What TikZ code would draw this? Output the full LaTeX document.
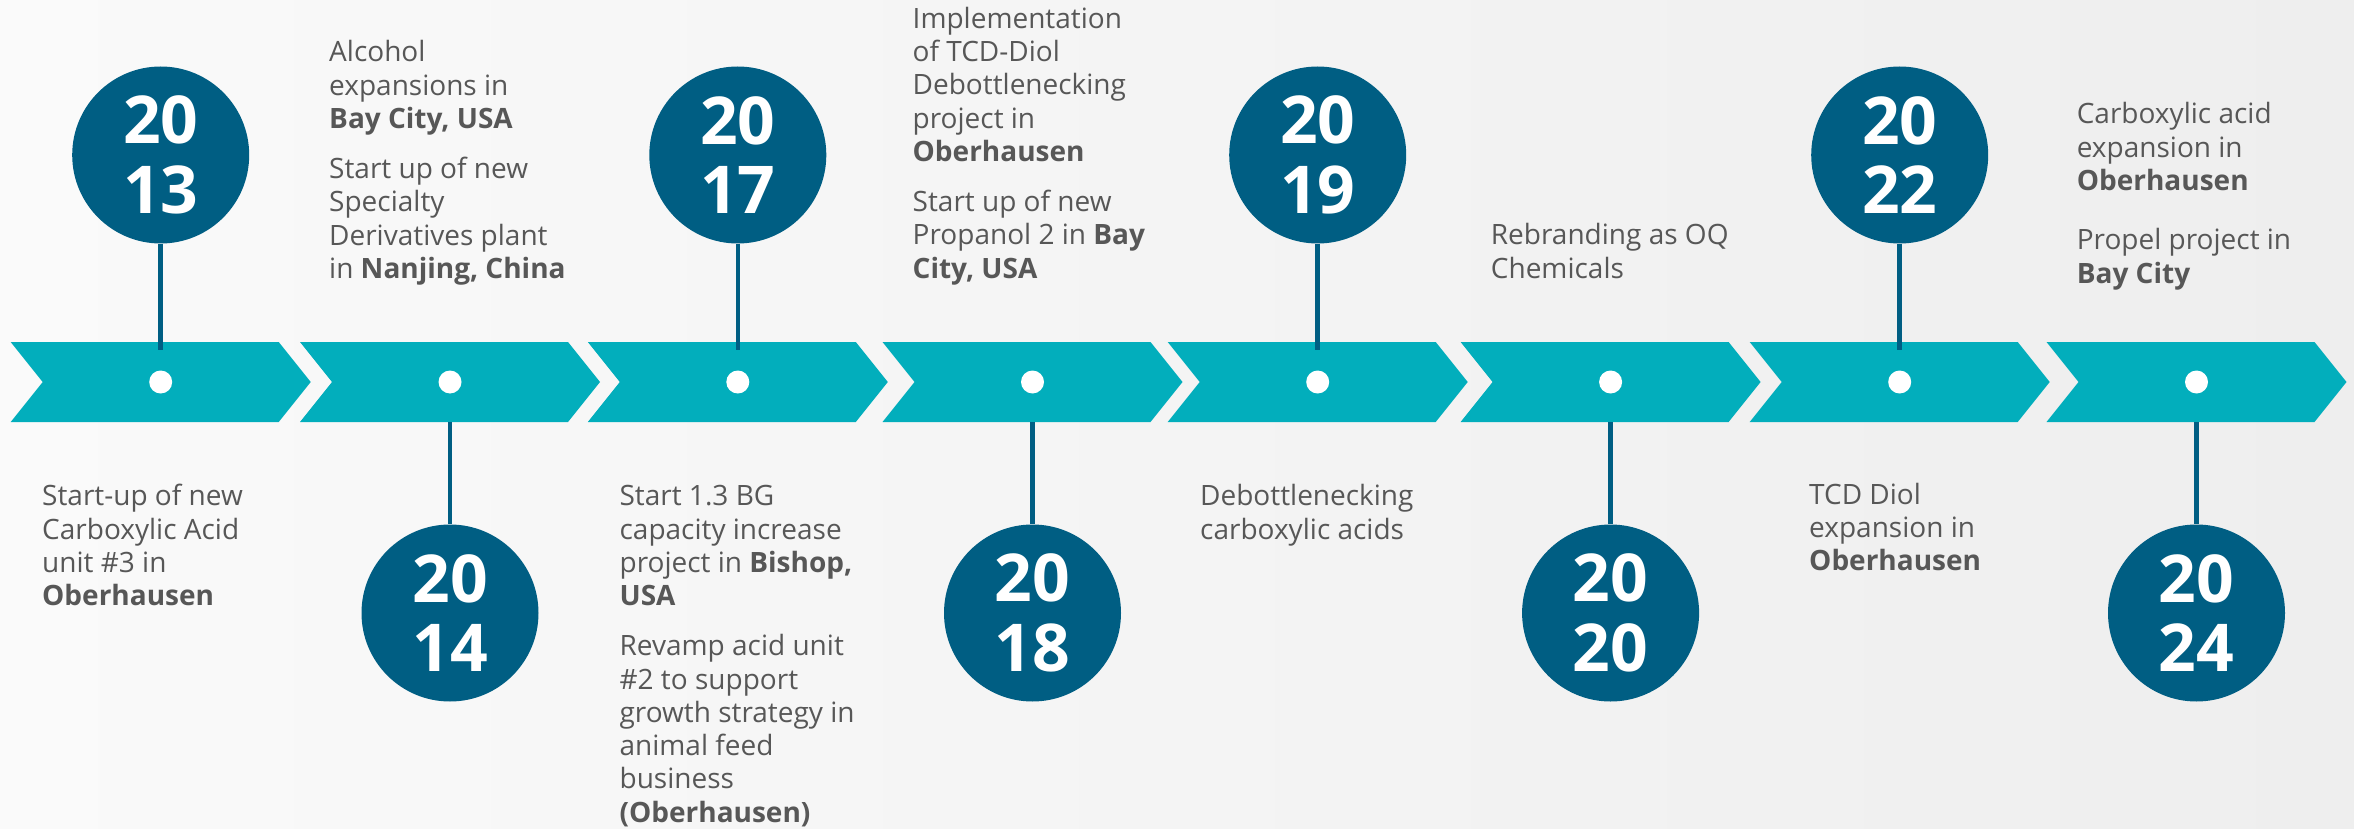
\documentclass[tikz,border=0pt]{standalone}
\usepackage{fontspec}
\setmainfont{Open Sans}
\definecolor{bandcol}{HTML}{02AEBC}
\definecolor{yearcol}{HTML}{005E83}
\definecolor{txtcol}{HTML}{575757}
\definecolor{bgA}{HTML}{FAFAFA}
\definecolor{bgB}{HTML}{EEEEEE}
\newcommand\yr[2]{\vbox{\baselineskip=69.5pt\halign{\hfil##\hfil\cr#1\cr#2\cr}}}
\newcommand\dl[1]{\hbox{#1}}
\newcommand\pgap{\vskip16.7pt}
\newcommand\blk[1]{\vtop{\baselineskip=33.3pt #1}}
\tikzset{
  bandshape/.style={fill=bandcol},
  yearc/.style={circle, fill=yearcol, minimum size=177pt, inner sep=0pt, text=white,
    font=\fontsize{66}{69.5}\selectfont\bfseries},
  dotc/.style={circle, fill=white, minimum size=23pt, inner sep=0pt},
  stemline/.style={draw=yearcol, line width=4.5pt},
  desc/.style={anchor=base west, inner sep=0pt, text=txtcol,
    font=\fontsize{28}{33.3}\selectfont},
}
\begin{document}
\begin{tikzpicture}[x=1pt,y=-1pt]
\path[left color=bgA, right color=bgB] (0,0) rectangle (2354,829);
\useasboundingbox (0,0) rectangle (2354,829);
% arrows
\foreach \L in {10.7,300,587.8,882.5,1167.7,1460.6,1749.7,2046.5}{
  \fill[bandshape] (\L,342) -- (\L+268,342) -- (\L+300,382) -- (\L+268,422)
    -- (\L,422) -- (\L+32,382) -- cycle;
}
% dots
\node[dotc] (d1) at (160.7,382) {};
\node[dotc] (d2) at (450,382) {};
\node[dotc] (d3) at (737.8,382) {};
\node[dotc] (d4) at (1032.5,382) {};
\node[dotc] (d5) at (1317.7,382) {};
\node[dotc] (d6) at (1610.6,382) {};
\node[dotc] (d7) at (1899.7,382) {};
\node[dotc] (d8) at (2196.5,382) {};
% year circles
\node[yearc] (c1) at (160.7,155) {\yr{20}{13}};
\node[yearc] (c2) at (450,613) {\yr{20}{14}};
\node[yearc] (c3) at (737.8,155) {\yr{20}{17}};
\node[yearc] (c4) at (1032.5,613) {\yr{20}{18}};
\node[yearc] (c5) at (1317.7,155) {\yr{20}{19}};
\node[yearc] (c6) at (1610.6,613) {\yr{20}{20}};
\node[yearc] (c7) at (1899.7,155) {\yr{20}{22}};
\node[yearc] (c8) at (2196.5,613) {\yr{20}{24}};
% stem ends
\coordinate (s1) at (160.7,350);
\coordinate (s2) at (450,422);
\coordinate (s3) at (737.8,350);
\coordinate (s4) at (1032.5,422);
\coordinate (s5) at (1317.7,350);
\coordinate (s6) at (1610.6,422);
\coordinate (s7) at (1899.7,350);
\coordinate (s8) at (2196.5,422);
\draw[stemline] (c1.south) -- (s1);
\draw[stemline] (s2) -- (c2.north);
\draw[stemline] (c3.south) -- (s3);
\draw[stemline] (s4) -- (c4.north);
\draw[stemline] (c5.south) -- (s5);
\draw[stemline] (s6) -- (c6.north);
\draw[stemline] (c7.south) -- (s7);
\draw[stemline] (s8) -- (c8.north);
% texts above
\node[desc] (t14) at (329,62) {\blk{\dl{Alcohol}\dl{expansions in}\dl{\bfseries Bay City, USA}\pgap
  \dl{Start up of new}\dl{Specialty}\dl{Derivatives plant}\dl{in \textbf{Nanjing, China}}}};
\node[desc] (t18) at (912.5,28.3) {\blk{\dl{Implementation}\dl{of TCD-Diol}\dl{Debottlenecking}\dl{project in}\dl{\bfseries Oberhausen}\pgap
  \dl{Start up of new}\dl{Propanol 2 in \textbf{Bay}}\dl{\bfseries City, USA}}};
\node[desc] (t20) at (1490.7,245) {\blk{\dl{Rebranding as OQ}\dl{Chemicals}}};
\node[desc] (t24) at (2076.6,124) {\blk{\dl{Carboxylic acid}\dl{expansion in}\dl{\bfseries Oberhausen}\vskip26pt
  \dl{Propel project in}\dl{\bfseries Bay City}}};
% texts below
\node[desc] (b13) at (42,505.8) {\blk{\dl{Start-up of new}\dl{Carboxylic Acid}\dl{unit \#3 in}\dl{\bfseries Oberhausen}}};
\node[desc] (b17) at (619.4,505.8) {\blk{\dl{Start 1.3 BG}\dl{capacity increase}\dl{project in \textbf{Bishop,}}\dl{\bfseries USA}\pgap
  \dl{Revamp acid unit}\dl{\#2 to support}\dl{growth strategy in}\dl{animal feed}\dl{business}\dl{\bfseries (Oberhausen)}}};
\node[desc] (b19) at (1200,505.8) {\blk{\dl{Debottlenecking}\dl{carboxylic acids}}};
\node[desc] (b22) at (1809,504) {\blk{\dl{TCD Diol}\dl{expansion in}\dl{\bfseries Oberhausen}}};
\end{tikzpicture}
\end{document}
